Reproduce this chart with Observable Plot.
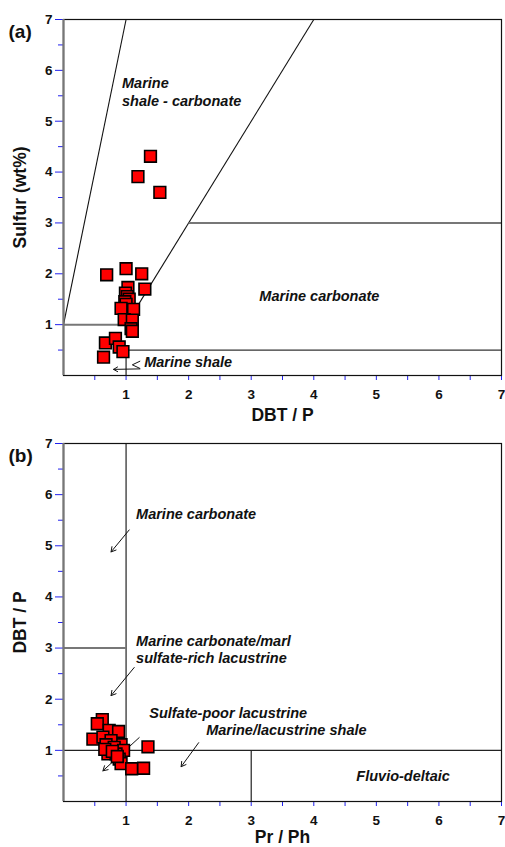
<!DOCTYPE html>
<html><head><meta charset="utf-8">
<script src="https://cdn.jsdelivr.net/npm/d3@7"></script>
<script src="https://cdn.jsdelivr.net/npm/@observablehq/plot@0.6"></script>
<style>
body{margin:0;background:#fff;font-family:"Liberation Sans",Arial,sans-serif;}
#chart{position:relative;width:505px;height:847px;}
#chart svg{display:block;}
</style></head><body><div id="chart"></div>
<script>
// ---- tick values ----
const majorTicks = [1, 2, 3, 4, 5, 6, 7];
const minorTicks = [0.5, 1.5, 2.5, 3.5, 4.5, 5.5, 6.5];

// ---- panel (a): DBT/P vs Sulfur ----
const dbtA    = [1.39, 1.19, 1.54, 0.69, 1.00, 1.25, 1.03, 1.30, 0.99, 1.02, 1.05, 0.98, 1.00, 0.92, 1.12, 0.97, 1.10, 1.08, 1.10, 0.67, 0.83, 0.89, 0.95, 0.64];
const sulfurA = [4.31, 3.91, 3.60, 1.98, 2.10, 2.00, 1.73, 1.70, 1.62, 1.55, 1.50, 1.45, 1.40, 1.32, 1.30, 1.10, 1.09, 0.92, 0.87, 0.64, 0.73, 0.56, 0.47, 0.36];

// ---- panel (b): Pr/Ph vs DBT/P ----
const prphB = [0.62, 0.54, 0.73, 0.88, 0.47, 0.63, 0.92, 0.76, 0.68, 0.81, 0.96, 0.71, 0.84, 0.89, 0.92, 1.09, 1.28, 1.35, 0.66, 0.78, 0.86];
const dbtB  = [1.60, 1.52, 1.39, 1.37, 1.22, 1.26, 1.11, 1.19, 1.11, 1.06, 1.00, 0.93, 0.93, 0.83, 0.74, 0.64, 0.65, 1.07, 1.02, 0.98, 0.88];

// ---- classification boundaries (data units) ----
const diagA  = [{x1: 0, y1: 1, x2: 1, y2: 7}, {x1: 1, y1: 1, x2: 4, y2: 7}];
const levelA = [{x1: 0, y1: 1, x2: 1, y2: 1}, {x1: 2, y1: 3, x2: 7, y2: 3}];
const shaleA = [{x1: 1, y1: 0.5, x2: 7, y2: 0.5}, {x1: 1, y1: 0, x2: 1, y2: 0.5}];
const darkB  = [{x1: 1, y1: 0, x2: 1, y2: 7}, {x1: 0, y1: 1, x2: 7, y2: 1}, {x1: 3, y1: 0, x2: 3, y2: 1}];
const grayB  = [{x1: 0, y1: 3, x2: 1, y2: 3}];

// ---- annotations ----
const labelsA = [
  {x: 0.935, y: 5.74, text: "Marine"},
  {x: 0.935, y: 5.40, text: "shale - carbonate"},
  {x: 3.13,  y: 1.56, text: "Marine carbonate"},
  {x: 1.29,  y: 0.26, text: "Marine shale"}
];
const squiggleA = [{x: 1.22, y: 0.28}, {x: 1.10, y: 0.21}, {x: 1.22, y: 0.14}];
const arrowsA = [{x1: 1.22, y1: 0.13, x2: 0.80, y2: 0.12}];

const labelsB = [
  {x: 1.16, y: 5.61, text: "Marine carbonate"},
  {x: 1.16, y: 3.13, text: "Marine carbonate/marl"},
  {x: 1.16, y: 2.79, text: "sulfate-rich lacustrine"},
  {x: 1.37, y: 1.72, text: "Sulfate-poor lacustrine"},
  {x: 2.28, y: 1.39, text: "Marine/lacustrine shale"},
  {x: 4.68, y: 0.49, text: "Fluvio-deltaic"}
];
const arrowsB = [
  {x1: 1.05, y1: 5.31, x2: 0.76, y2: 4.88},
  {x1: 1.13, y1: 2.62, x2: 0.76, y2: 2.07},
  {x1: 1.21, y1: 1.25, x2: 0.63, y2: 0.60},
  {x1: 2.16, y1: 1.15, x2: 1.88, y2: 0.68}
];

const FONT = "'Liberation Sans', Arial, sans-serif";
const BLUE = "#2222ee";
const noText = () => "";

function axes(xLabel, yLabel, panel, xLabelOffset) {
  return [
    Plot.axisY(majorTicks, {tickSize: 8, stroke: BLUE, tickFormat: noText, label: null}),
    Plot.axisY(minorTicks, {tickSize: 5, stroke: BLUE, tickFormat: noText, label: null}),
    Plot.axisX(majorTicks, {tickSize: 5, stroke: BLUE, tickFormat: noText, label: null}),
    Plot.axisX(minorTicks, {tickSize: 5, stroke: BLUE, tickFormat: noText, label: null}),
    Plot.text(majorTicks, {y: d => d, text: d => String(d), frameAnchor: "left", dx: -11, textAnchor: "end", lineAnchor: "middle", fontSize: 13.5, fontWeight: "bold", fill: "#111"}),
    Plot.text(majorTicks, {x: d => d, text: d => String(d), frameAnchor: "bottom", dy: 19, textAnchor: "middle", lineAnchor: "middle", fontSize: 13.5, fontWeight: "bold", fill: "#111"}),
    Plot.frame({stroke: "#111", strokeWidth: 1.2}),
    Plot.ruleX([0], {stroke: "#777", strokeWidth: 2.2}),
    Plot.text([xLabel], {text: d => d, frameAnchor: "bottom", dy: xLabelOffset, textAnchor: "middle", lineAnchor: "middle", fontSize: 17.5, fontWeight: "bold", fill: "#111"}),
    Plot.text([yLabel], {text: d => d, frameAnchor: "left", dx: -43, rotate: -90, textAnchor: "middle", lineAnchor: "middle", fontSize: 17.5, fontWeight: "bold", fill: "#111"}),
    Plot.text([panel], {text: d => d, frameAnchor: "top-left", dx: -55, dy: 5, textAnchor: "start", fontSize: 19, fontWeight: "bold", fill: "#111"})
  ];
}

const annot = {textAnchor: "start", lineAnchor: "middle", fontStyle: "italic", fontWeight: "bold", fontSize: 14.5, fill: "#111"};

const plotA = Plot.plot({
  width: 505, height: 430,
  marginTop: 19, marginBottom: 55, marginLeft: 63, marginRight: 4,
  x: {domain: [0, 7], axis: null},
  y: {domain: [0, 7], axis: null},
  style: {fontFamily: FONT, background: "white", color: "#111", overflow: "visible"},
  marks: [
    Plot.link(diagA, {x1: "x1", y1: "y1", x2: "x2", y2: "y2", stroke: "#111", strokeWidth: 1.1}),
    Plot.link(levelA, {x1: "x1", y1: "y1", x2: "x2", y2: "y2", stroke: "#777", strokeWidth: 2}),
    Plot.link(shaleA, {x1: "x1", y1: "y1", x2: "x2", y2: "y2", stroke: "#333", strokeWidth: 1.3}),
    Plot.line(squiggleA, {x: "x", y: "y", stroke: "#111", strokeWidth: 1, curve: "linear"}),
    Plot.arrow(arrowsA, {x1: "x1", y1: "y1", x2: "x2", y2: "y2", stroke: "#111", strokeWidth: 1, headLength: 7, bend: false}),
    Plot.text(labelsA, {x: "x", y: "y", text: "text", ...annot}),
    Plot.dot(dbtA.map((d, i) => ({x: d, y: sulfurA[i]})), {x: "x", y: "y", symbol: "square", r: 6.6, fill: "#ff0000", stroke: "#000", strokeWidth: 1.6}),
    ...axes("DBT / P", "Sulfur (wt%)", "(a)", 40)
  ]
});

const plotB = Plot.plot({
  width: 505, height: 417,
  marginTop: 13, marginBottom: 46, marginLeft: 63, marginRight: 4,
  x: {domain: [0, 7], axis: null},
  y: {domain: [0, 7], axis: null},
  style: {fontFamily: FONT, background: "white", color: "#111", overflow: "visible"},
  marks: [
    Plot.link(darkB, {x1: "x1", y1: "y1", x2: "x2", y2: "y2", stroke: "#222", strokeWidth: 1.2}),
    Plot.link(grayB, {x1: "x1", y1: "y1", x2: "x2", y2: "y2", stroke: "#777", strokeWidth: 2}),
    Plot.arrow(arrowsB, {x1: "x1", y1: "y1", x2: "x2", y2: "y2", stroke: "#111", strokeWidth: 1, headLength: 8, bend: false}),
    Plot.text(labelsB, {x: "x", y: "y", text: "text", ...annot}),
    Plot.dot(prphB.map((d, i) => ({x: d, y: dbtB[i]})), {x: "x", y: "y", symbol: "square", r: 6.6, fill: "#ff0000", stroke: "#000", strokeWidth: 1.6}),
    ...axes("Pr / Ph", "DBT / P", "(b)", 36)
  ]
});

const root = document.getElementById("chart");
root.appendChild(plotA);
root.appendChild(plotB);
</script></body></html>
